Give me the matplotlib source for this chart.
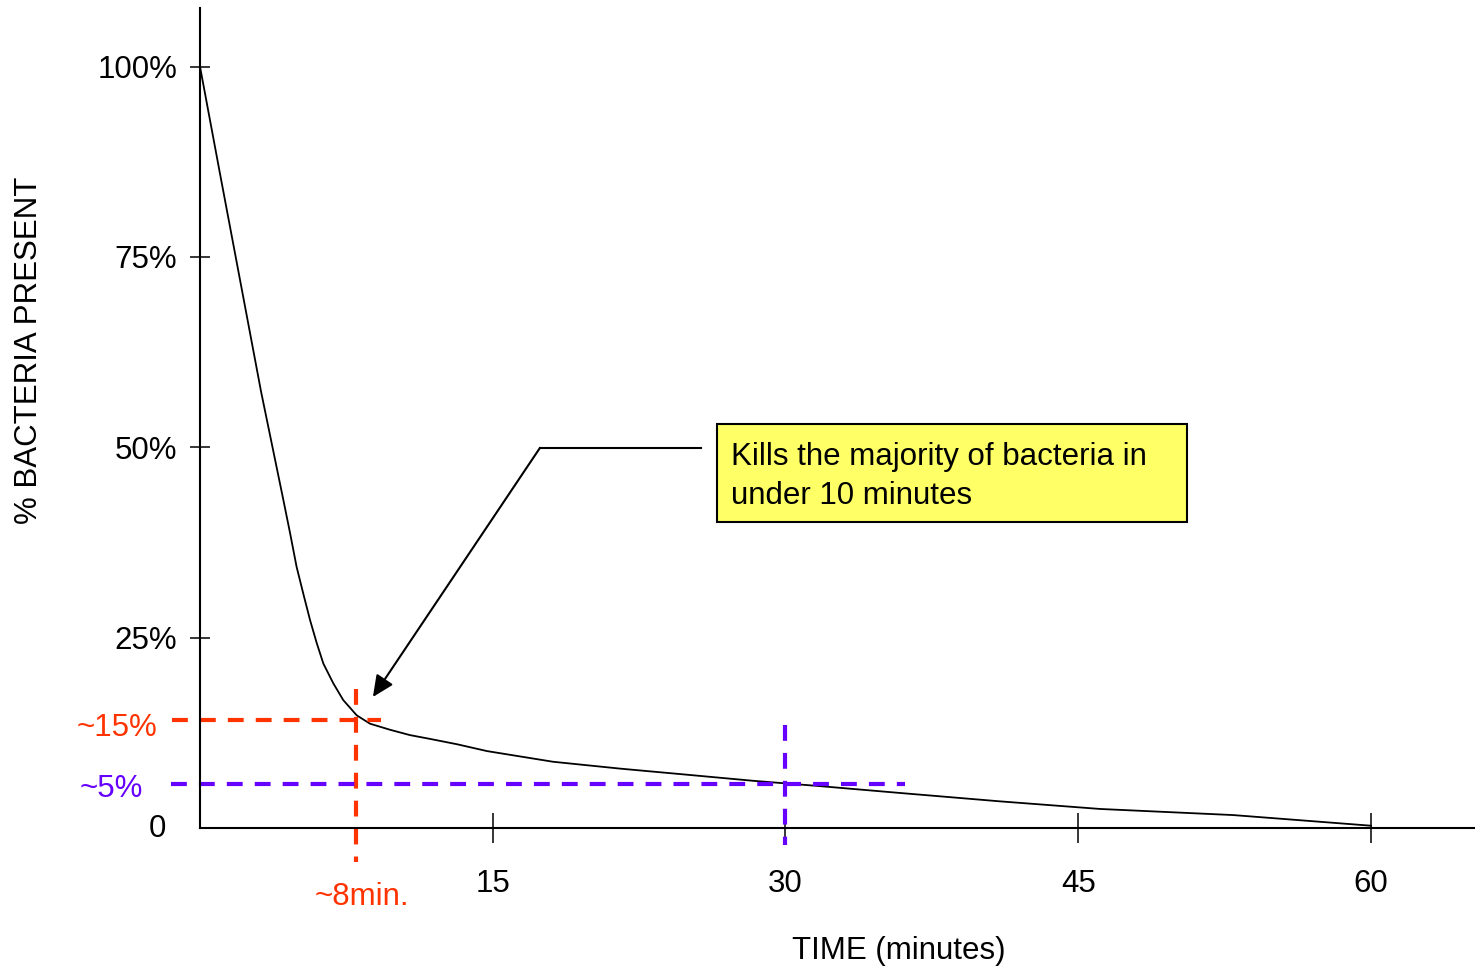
import matplotlib.pyplot as plt
from matplotlib.patches import Rectangle

plt.rcParams['font.family'] = ['Liberation Sans', 'DejaVu Sans']
plt.rcParams['font.size'] = 22.5

# kill curve: minutes vs % bacteria still present
time_min = [0, 1.02, 2.05, 3.13, 4.27, 4.61, 4.95, 5.29, 5.64, 5.98, 6.32, 6.83,
            7.34, 8.03, 8.71, 9.74, 10.76, 11.79, 13.17, 14.71, 18.09, 21.52,
            24.95, 28.34, 31.77, 35.87, 40.99, 46.12, 52.93, 60]
pct_present = [100, 86.0, 72.0, 57.3, 43.1, 38.8, 34.3, 30.8, 27.3, 24.3, 21.6, 19.0,
               16.8, 14.8, 13.7, 12.9, 12.2, 11.7, 11.0, 10.1, 8.7, 7.8,
               7.0, 6.2, 5.5, 4.6, 3.5, 2.5, 1.7, 0.3]

x_ticks = [15, 30, 45, 60]
y_ticks = [25, 50, 75, 100]
y_tick_labels = ['25%', '50%', '75%', '100%']

# read-off guides (time, percent)
red_guide = (8, 14.2)
purple_guide = (30, 5.8)
red = '#FF3300'
purple = '#6600FF'

note_lines = ['Kills the majority of bacteria in', 'under 10 minutes']

W, H = 1475, 968


def fx(px):
    return px / W


def fy(py):
    return (H - py) / H


fig = plt.figure(figsize=(W / 100, H / 100), dpi=100)
ax = fig.add_axes([fx(200), fy(828), 1275 / W, 820 / H])
ax.set_xlim(0, 65.33)
ax.set_ylim(0, 107.7)

for side in ['top', 'right']:
    ax.spines[side].set_visible(False)
for side in ['left', 'bottom']:
    ax.spines[side].set_linewidth(1.5)

ax.set_xticks(x_ticks)
ax.set_xticklabels([str(t) for t in x_ticks])
ax.set_yticks(y_ticks)
ax.set_yticklabels(y_tick_labels)
ax.tick_params(axis='x', direction='inout', length=21, width=1.1, pad=19)
ax.tick_params(axis='y', direction='inout', length=15, width=1.1, pad=9)

# the curve
ax.plot(time_min, pct_present, color='black', lw=1.3, solid_joinstyle='round')

# dashed guides
dash = (3.8, 2.9)
ax.plot([-1.45, red_guide[0] + 1.25], [red_guide[1]] * 2, color=red, lw=3,
        dashes=dash, clip_on=False)
ax.plot([red_guide[0]] * 2, [red_guide[1] + 4.1, -4.5], color=red, lw=3,
        dashes=dash, clip_on=False)
ax.plot([-1.5, purple_guide[0] + 6.1], [purple_guide[1]] * 2, color=purple, lw=3,
        dashes=dash, clip_on=False)
ax.plot([purple_guide[0]] * 2, [purple_guide[1] + 7.7, -2.2], color=purple, lw=3,
        dashes=dash, clip_on=False)

ax.text(-2.2, 12.1, '~15%', color=red, ha='right', va='baseline', clip_on=False)
ax.text(-2.92, 4.07, '~5%', color=purple, ha='right', va='baseline', clip_on=False)
ax.text(-1.74, -1.18, '0', color='black', ha='right', va='baseline', clip_on=False)
ax.text(8.28, -10.1, '~8min.', color=red, ha='center', va='baseline', clip_on=False)

# callout arrow
ax.plot([25.67, 17.42], [49.93, 49.93], color='black', lw=1.5)
ax.annotate('', xy=(8.86, 17.21), xytext=(17.42, 49.93),
            arrowprops=dict(arrowstyle='-|>,head_length=0.65,head_width=0.3',
                            color='black', lw=1.5, shrinkA=0, shrinkB=0,
                            mutation_scale=20))

# callout box
fig.add_artist(Rectangle((fx(717), fy(522)), 470 / W, 98 / H,
                         transform=fig.transFigure, facecolor='#FFFF66',
                         edgecolor='black', lw=1.5))
for line, base in zip(note_lines, [465, 504]):
    fig.text(fx(731), fy(base), line, ha='left', va='baseline')

fig.text(fx(899), fy(959), 'TIME (minutes)', ha='center', va='baseline')
fig.text(fx(29), fy(350), '% BACTERIA PRESENT', rotation=90, ha='center', va='center')

fig.savefig('out.png', dpi=100)
